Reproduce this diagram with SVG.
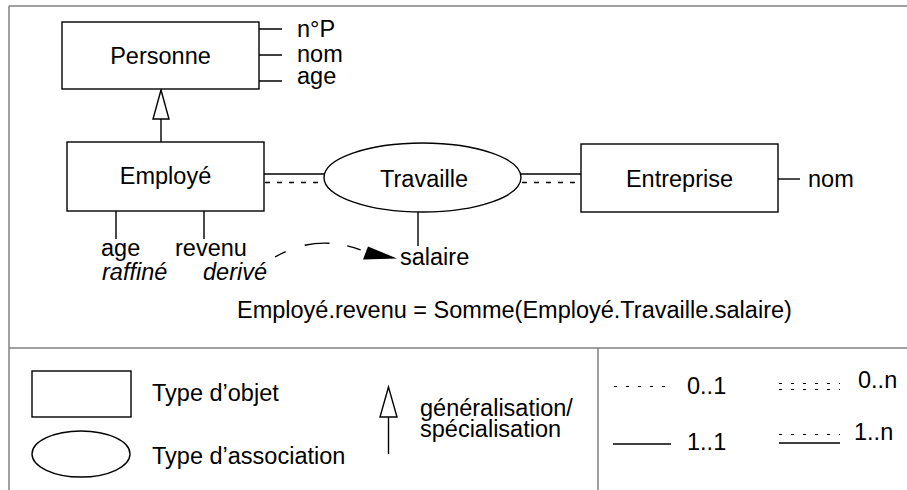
<svg xmlns="http://www.w3.org/2000/svg" width="907" height="490" viewBox="0 0 907 490">
<style>
text{font-family:"Liberation Sans",Arial,Helvetica,sans-serif;font-size:23.5px;fill:#000}
.it{font-style:italic}
.frame{stroke:#808080;stroke-width:1.5;fill:none}
.shape{stroke:#000;stroke-width:1.4;fill:#fff}
.ln{stroke:#000;stroke-width:1.4;fill:none}
.dash{stroke:#000;stroke-width:1.3;fill:none;stroke-dasharray:5 7}
.dot{stroke:#000;stroke-width:1.1;fill:none;stroke-dasharray:3 9}
</style>
<rect width="907" height="490" fill="#fff"/>
<g id="frame">
<path class="frame" d="M9 6H907M9 6V490M9 348H907M598 348V490"/>
</g>
<g id="connectors">
<path class="ln" d="M259 29H282M259 55H282M259 81H282"/>
<path class="ln" d="M161 119V142"/>
<polygon class="shape" points="161,90 153,119 169,119"/>
<path class="ln" d="M264 174H325"/>
<path class="dash" d="M265 182.5H325"/>
<path class="ln" d="M521 174H582"/>
<path class="dash" d="M522 182.5H582"/>
<path class="ln" d="M778 179H800"/>
<path class="ln" d="M418 212V246"/>
<path class="ln" d="M116 211V239M204 211V239"/>
<path class="ln" d="M275 257Q318 232 366 252" stroke-dasharray="12 20 25 18 14 40"/>
<polygon points="368,246.5 363,259.5 397,258.5" fill="#000"/>
</g>
<g id="personne">
<rect class="shape" x="62" y="22" width="197" height="67"/>
<text x="160.5" y="64" text-anchor="middle">Personne</text>
<text x="297" y="37">n°P</text>
<text x="297" y="62">nom</text>
<text x="297" y="84">age</text>
</g>
<g id="employe">
<rect class="shape" x="67" y="142" width="197" height="69"/>
<text x="165.5" y="184" text-anchor="middle">Employé</text>
<text x="101" y="256">age</text>
<text x="175" y="256">revenu</text>
<text class="it" x="102" y="280">raffiné</text>
<text class="it" x="203" y="280">derivé</text>
</g>
<g id="travaille">
<ellipse class="shape" cx="422.5" cy="177.5" rx="98.5" ry="34.5"/>
<text x="424" y="187" text-anchor="middle">Travaille</text>
<text x="400" y="265">salaire</text>
</g>
<g id="entreprise">
<rect class="shape" x="581" y="144" width="197" height="68"/>
<text x="679.5" y="187" text-anchor="middle">Entreprise</text>
<text x="808" y="187">nom</text>
</g>
<g id="formula">
<text x="237" y="318">Employé.revenu = Somme(Employé.Travaille.salaire)</text>
</g>
<g id="legend">
<rect class="shape" x="32" y="371" width="99" height="46"/>
<text x="152" y="401">Type d’objet</text>
<ellipse class="shape" cx="81" cy="454" rx="49" ry="23"/>
<text x="152" y="464">Type d’association</text>
<polygon class="shape" points="388.5,387 380,417 397,417"/>
<path class="ln" d="M388.5 417V454"/>
<text x="420" y="416">généralisation/</text>
<text x="420" y="437">spécialisation</text>
<path class="dot" d="M614 386.5H672"/>
<text x="687" y="394">0..1</text>
<path class="dot" d="M779 383.5H840M779 389.5H840"/>
<text x="858" y="388">0..n</text>
<path class="ln" d="M613 444H671"/>
<text x="687" y="450">1..1</text>
<path class="dot" d="M779 434.5H840"/>
<path class="ln" d="M779 443H840"/>
<text x="854" y="440">1..n</text>
</g>
</svg>
